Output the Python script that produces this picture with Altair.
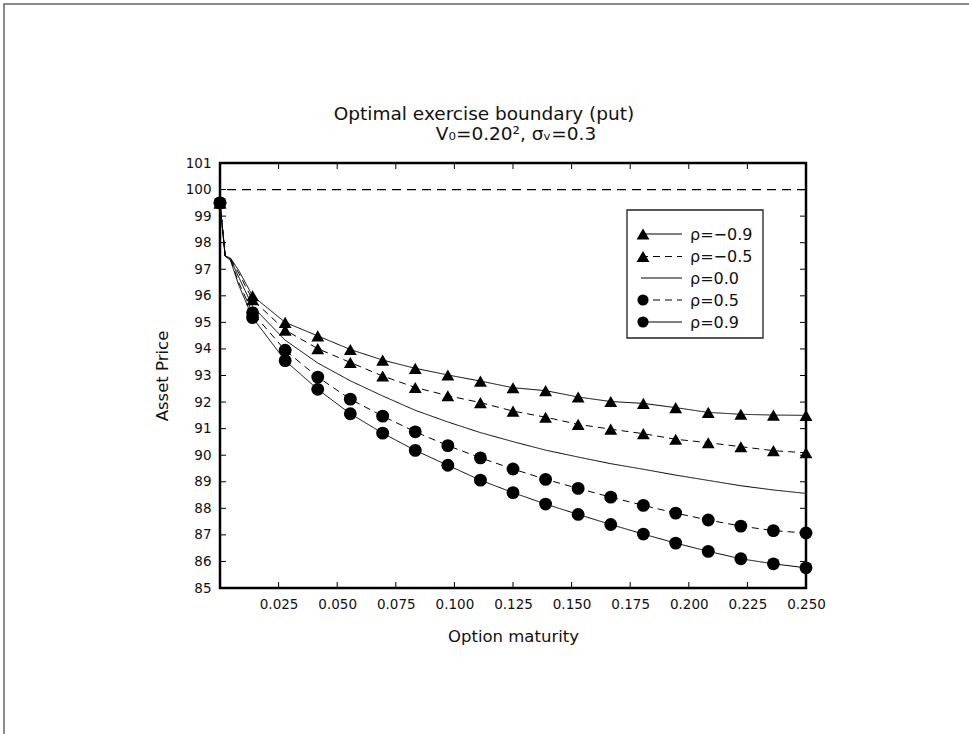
import altair as alt
import pandas as pd

# ---- data ----
t_marks = [0.0, 0.0139, 0.0278, 0.0417, 0.0556, 0.0694, 0.0833, 0.0972, 0.1111,
           0.125, 0.1389, 0.1528, 0.1667, 0.1806, 0.1944, 0.2083, 0.2222, 0.2361, 0.25]
rho_m09 = [99.5, 96.0, 95.0, 94.49, 93.98, 93.58, 93.27, 93.02, 92.79, 92.54,
           92.43, 92.19, 92.02, 91.95, 91.79, 91.61, 91.54, 91.51, 91.50]
rho_m05 = [99.5, 95.85, 94.71, 94.01, 93.49, 92.98, 92.55, 92.24, 91.98, 91.66,
           91.43, 91.16, 90.98, 90.81, 90.60, 90.47, 90.32, 90.17, 90.09]
rho_00 = [99.5, 95.6, 94.33, 93.47, 92.8, 92.23, 91.69, 91.25, 90.85, 90.51,
          90.19, 89.93, 89.68, 89.47, 89.25, 89.05, 88.85, 88.69, 88.56]
rho_p05 = [99.5, 95.36, 93.95, 92.94, 92.11, 91.47, 90.88, 90.36, 89.90, 89.48,
           89.09, 88.75, 88.42, 88.11, 87.82, 87.56, 87.33, 87.16, 87.07]
rho_p09 = [99.5, 95.18, 93.56, 92.48, 91.56, 90.83, 90.18, 89.62, 89.06, 88.59,
           88.16, 87.77, 87.39, 87.03, 86.69, 86.38, 86.10, 85.91, 85.76]

# early points (line only, no markers)
t_early = [0.0022, 0.0045, 0.008]
early_m09 = [97.5, 97.42, 96.95]
early_m05 = [97.5, 97.4, 96.85]
early_00 = [97.5, 97.38, 96.7]
early_p05 = [97.5, 97.35, 96.5]
early_p09 = [97.5, 97.33, 96.4]

series_names = ["ρ=−0.9", "ρ=−0.5", "ρ=0.0", "ρ=0.5", "ρ=0.9"]
series_vals = [rho_m09, rho_m05, rho_00, rho_p05, rho_p09]
series_early = [early_m09, early_m05, early_00, early_p05, early_p09]
dash_range = [[1, 0], [7, 5], [1, 0], [7, 5], [1, 0]]
marker_names = ["ρ=−0.9", "ρ=−0.5", "ρ=0.5", "ρ=0.9"]
marker_shapes = ["triangle-up", "triangle-up", "circle", "circle"]
marker_sizes = [165, 165, 125, 125]

y_ticks = list(range(85, 102))
x_ticks = [0.025, 0.05, 0.075, 0.1, 0.125, 0.15, 0.175, 0.2, 0.225, 0.25]
strike = [100]

FONT = "DejaVu Sans"
W, H = 586, 425

line_rows, mark_rows = [], []
for name, vals, early in zip(series_names, series_vals, series_early):
    pts = list(zip(t_marks, vals)) + list(zip(t_early, early))
    pts.sort()
    for t, v in pts:
        line_rows.append({"series": name, "t": t, "price": v})
    if name in marker_names:
        for t, v in zip(t_marks, vals):
            mark_rows.append({"series": name, "t": t, "price": v})
line_df = pd.DataFrame(line_rows)
mark_df = pd.DataFrame(mark_rows)

xscale = alt.Scale(domain=[0, 0.25], nice=False, zero=False)
yscale = alt.Scale(domain=[85, 101], nice=False, zero=False)
dash_scale = alt.Scale(domain=series_names, range=dash_range)
shape_scale = alt.Scale(domain=marker_names, range=marker_shapes)
size_scale = alt.Scale(domain=marker_names, range=marker_sizes)

x_axis = alt.Axis(values=x_ticks, format=".3f", ticks=False, domain=False, grid=False,
                  labelFlush=False, labelOverlap=False,
                  labelFont=FONT, labelFontSize=13.5, labelColor="#111", labelPadding=9,
                  title="Option maturity", titleFont=FONT, titleFontSize=16.5,
                  titleFontWeight="normal", titleColor="#111", titlePadding=18)
y_axis = alt.Axis(values=y_ticks, ticks=False, domain=False, grid=False,
                  labelFlush=False, labelOverlap=False,
                  labelFont=FONT, labelFontSize=13.5, labelColor="#111", labelPadding=9,
                  title="Asset Price", titleFont=FONT, titleFontSize=16.5,
                  titleFontWeight="normal", titleColor="#111", titlePadding=15)

lines = alt.Chart(line_df).mark_line(color="black", strokeWidth=1).encode(
    x=alt.X("t:Q", scale=xscale, axis=x_axis),
    y=alt.Y("price:Q", scale=yscale, axis=y_axis),
    strokeDash=alt.StrokeDash("series:N", scale=dash_scale, legend=None),
    detail="series:N",
    order="t:Q",
)

markers = alt.Chart(mark_df).mark_point(filled=True, color="black", opacity=1).encode(
    x=alt.X("t:Q", scale=xscale, axis=x_axis),
    y=alt.Y("price:Q", scale=yscale, axis=y_axis),
    shape=alt.Shape("series:N", scale=shape_scale, legend=None),
    size=alt.Size("series:N", scale=size_scale, legend=None),
)

ref = alt.Chart(pd.DataFrame({"price": strike})).mark_rule(
    color="black", strokeWidth=1.2, strokeDash=[9, 6]).encode(
    y=alt.Y("price:Q", scale=yscale, axis=y_axis))

ydf = pd.DataFrame({"price": y_ticks})
xdf = pd.DataFrame({"t": x_ticks})
tk_left = alt.Chart(ydf).mark_rule(color="black", strokeWidth=1).encode(
    y=alt.Y("price:Q", scale=yscale, axis=y_axis), x=alt.value(0), x2=alt.value(6))
tk_right = alt.Chart(ydf).mark_rule(color="black", strokeWidth=1).encode(
    y=alt.Y("price:Q", scale=yscale, axis=y_axis), x=alt.value(W - 6), x2=alt.value(W))
tk_bot = alt.Chart(xdf).mark_rule(color="black", strokeWidth=1).encode(
    x=alt.X("t:Q", scale=xscale, axis=x_axis), y=alt.value(H), y2=alt.value(H - 6))
tk_top = alt.Chart(xdf).mark_rule(color="black", strokeWidth=1).encode(
    x=alt.X("t:Q", scale=xscale, axis=x_axis), y=alt.value(0), y2=alt.value(6))

dummy = pd.DataFrame({"a": [0]})


def txt(s, x, y, size=16, align="center"):
    return alt.Chart(dummy).mark_text(font=FONT, fontSize=size, color="#111",
                                      align=align, baseline="alphabetic").encode(
        x=alt.value(x), y=alt.value(y), text=alt.value(s))


title1 = txt("Optimal exercise boundary (put)", 264, -43, size=18.5)
title2 = txt("V₀=0.20², σᵥ=0.3", 296, -23, size=18.5)

# legend box
LX0, LX1, LY0, LY1 = 407, 543, 47, 175
legend_parts = [
    alt.Chart(dummy).mark_rect(fill="white", stroke="#222", strokeWidth=1.3).encode(
        x=alt.value(LX0), x2=alt.value(LX1), y=alt.value(LY0), y2=alt.value(LY1))
]
row_y = [71, 93.5, 115, 137, 159]
for name, ry, dash in zip(series_names, row_y, dash_range):
    legend_parts.append(
        alt.Chart(dummy).mark_rule(color="black", strokeWidth=1, strokeDash=dash).encode(
            x=alt.value(421), x2=alt.value(462), y=alt.value(ry)))
    if name in marker_names:
        i = marker_names.index(name)
        legend_parts.append(
            alt.Chart(dummy).mark_point(filled=True, color="black", opacity=1,
                                        size=marker_sizes[i], shape=marker_shapes[i]).encode(
                x=alt.value(423), y=alt.value(ry)))
    legend_parts.append(txt(name, 470, ry + 5.5, size=16, align="left"))

# outer frame of the figure
frame = alt.Chart(dummy).mark_rect(fill=None, stroke="#666", strokeWidth=1.5).encode(
    x=alt.value(-216), x2=alt.value(760), y=alt.value(-159), y2=alt.value(600))

chart = alt.layer(
    frame, ref, lines, markers, tk_left, tk_right, tk_bot, tk_top,
    title1, title2, *legend_parts
).properties(
    width=W, height=H,
    autosize=alt.AutoSizeParams(type="none"),
    padding={"left": 220, "top": 163, "right": 163, "bottom": 146},
    background="white",
).configure_view(stroke="black", strokeWidth=2.5)

chart.save("out.html", embed_options={"renderer": "svg", "actions": False})
